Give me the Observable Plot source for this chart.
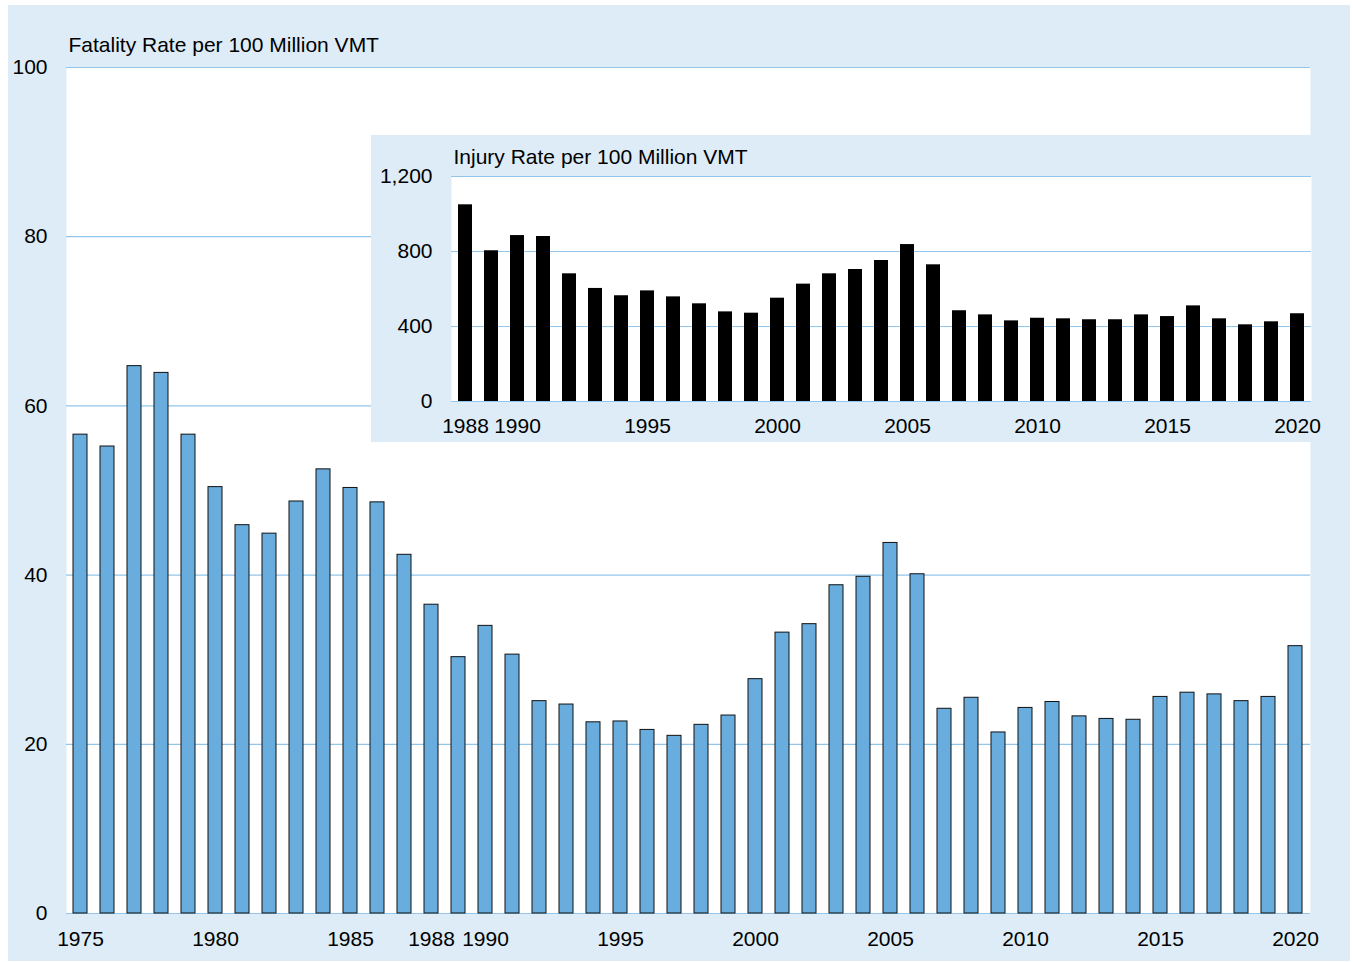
<!DOCTYPE html>
<html>
<head>
<meta charset="utf-8">
<script src="https://cdn.jsdelivr.net/npm/d3@7"></script>
<script src="https://cdn.jsdelivr.net/npm/@observablehq/plot@0.6"></script>
<style>
  html, body { margin: 0; padding: 0; background: #ffffff; }
  #wrap { position: relative; width: 1353px; height: 962px; overflow: hidden; }
  #bg { position: absolute; left: 8px; top: 5px; width: 1342px; height: 956px; background: #ddecf7; }
  #main { position: absolute; left: 0; top: 0; }
  #inset { position: absolute; left: 371px; top: 135px; width: 940px; height: 307px; background: #ddecf7; }
  svg { overflow: visible; }
</style>
</head>
<body>
<div id="wrap">
  <div id="bg"></div>
  <div id="main"></div>
  <div id="inset"></div>
</div>
<script>
// ---- Data ----
const years = [1975,1976,1977,1978,1979,1980,1981,1982,1983,1984,1985,1986,1987,1988,1989,1990,1991,1992,1993,1994,1995,1996,1997,1998,1999,2000,2001,2002,2003,2004,2005,2006,2007,2008,2009,2010,2011,2012,2013,2014,2015,2016,2017,2018,2019,2020];
const fatalityRate = [56.6,55.2,64.7,63.9,56.6,50.4,45.9,44.9,48.7,52.5,50.3,48.6,42.4,36.5,30.3,34.0,30.6,25.1,24.7,22.6,22.7,21.7,21.0,22.3,23.4,27.7,33.2,34.2,38.8,39.8,43.8,40.1,24.2,25.5,21.4,24.3,25.0,23.3,23.0,22.9,25.6,26.1,25.9,25.1,25.6,31.6];

const injuryYears = [1988,1989,1990,1991,1992,1993,1994,1995,1996,1997,1998,1999,2000,2001,2002,2003,2004,2005,2006,2007,2008,2009,2010,2011,2012,2013,2014,2015,2016,2017,2018,2019,2020];
const injuryRate = [1049,804,885,880,681,603,564,590,558,521,478,471,551,626,681,704,752,837,729,484,462,430,444,441,436,436,462,453,510,441,409,425,468];

const mainYTicks = [0,20,40,60,80,100];
const mainXTicks = [1975,1980,1985,1988,1990,1995,2000,2005,2010,2015,2020];
const insetYTicks = [0,400,800,1200];
const insetXTicks = [1988,1990,1995,2000,2005,2010,2015,2020];

const mainTitle = "Fatality Rate per 100 Million VMT";
const insetTitle = "Injury Rate per 100 Million VMT";

// ---- Styles ----
const gridColor = "#92c6ec";
const fontFamily = "'Liberation Sans', Arial, Helvetica, sans-serif";
const fs = 21;

const mainData = years.map((y, i) => ({year: y, value: fatalityRate[i]}));
const insetData = injuryYears.map((y, i) => ({year: y, value: injuryRate[i]}));

const mainPlot = Plot.plot({
  width: 1353,
  height: 962,
  marginLeft: 66,
  marginRight: 43,
  marginTop: 67,
  marginBottom: 49,
  style: {background: "transparent", fontFamily, fontSize: fs + "px", color: "#000", overflow: "visible"},
  x: {type: "band", domain: years, paddingInner: 0.48, paddingOuter: 0.24, align: 0.5},
  y: {domain: [0, 100]},
  marks: [
    Plot.frame({fill: "#ffffff", stroke: null}),
    Plot.ruleY(mainYTicks, {stroke: gridColor, strokeWidth: 1.2}),
    Plot.barY(mainData, {x: "year", y: "value", fill: "#69addf", stroke: "#111", strokeWidth: 1}),
    Plot.axisX({ticks: mainXTicks, tickSize: 0, tickPadding: 18, tickFormat: d => String(d), label: null, fontSize: fs}),
    Plot.axisY({ticks: mainYTicks, tickSize: 0, tickPadding: 19, label: null, fontSize: fs}),
    Plot.text([mainTitle], {frameAnchor: "top-left", textAnchor: "start", lineAnchor: "bottom", dx: 2, dy: -16, fontSize: fs, fill: "#000"})
  ]
});
document.getElementById("main").appendChild(mainPlot);

const insetPlot = Plot.plot({
  width: 940,
  height: 307,
  marginLeft: 80,
  marginRight: 0,
  marginTop: 41,
  marginBottom: 41,
  style: {background: "transparent", fontFamily, fontSize: fs + "px", color: "#000", overflow: "visible"},
  x: {type: "band", domain: injuryYears, paddingInner: 0.47, paddingOuter: 0.235, align: 0.5},
  y: {domain: [0, 1200]},
  marks: [
    Plot.frame({fill: "#ffffff", stroke: null}),
    Plot.ruleY(insetYTicks, {stroke: gridColor, strokeWidth: 1.2}),
    Plot.barY(insetData, {x: "year", y: "value", fill: "#000000"}),
    Plot.axisX({ticks: insetXTicks, tickSize: 0, tickPadding: 17, tickFormat: d => String(d), label: null, fontSize: fs}),
    Plot.axisY({ticks: insetYTicks, tickSize: 0, tickPadding: 19, tickFormat: d3.format(","), label: null, fontSize: fs}),
    Plot.text([insetTitle], {frameAnchor: "top-left", textAnchor: "start", lineAnchor: "bottom", dx: 2, dy: -13, fontSize: fs, fill: "#000"})
  ]
});
document.getElementById("inset").appendChild(insetPlot);
</script>
</body>
</html>
